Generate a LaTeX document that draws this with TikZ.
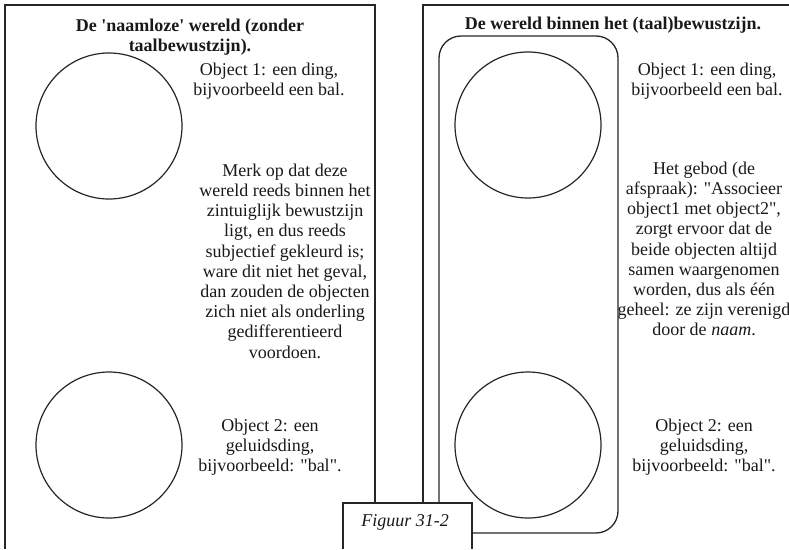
\documentclass[tikz,border=0pt]{standalone}
\usepackage{fontspec}
\setmainfont{Liberation Serif}[Ligatures=TeXOff]
\usetikzlibrary{positioning}

\begin{document}
\begin{tikzpicture}[x=1pt,y=-1pt,
  frame/.style={line width=1.3pt,draw=black!85},
  ball/.style={circle,draw=black!85,line width=1.2pt,minimum size=146pt,inner sep=0pt},
  txt/.style={align=center,inner sep=0pt,text=black!90,font=\fontsize{18}{20.2}\selectfont},
  ttl/.style={txt,font=\fontsize{18}{20.2}\selectfont\bfseries}]
  \def\W{789}
  \def\H{549}
  \useasboundingbox (0,0) rectangle (\W,\H);

  %Left panel: the nameless world
  \draw[frame] (5,\H) -- (5,5) -- (375,5) -- (375,\H);
  \node[ttl] (titleL) at (190,37) {De 'naamloze' wereld (zonder\\taalbewustzijn).};
  \node[ball] (ballL) at (109,126) {};
  \node[ball] (soundL) at (109,445) {};
  \node[txt] (objL) at (269,81) {Object 1: een ding,\\bijvoorbeeld een bal.};
  \node[txt] (noteL) at (285,261) {Merk op dat deze\\wereld reeds binnen het\\zintuiglijk bewustzijn\\ligt, en dus reeds\\subjectief gekleurd is;\\ware dit niet het geval,\\dan zouden de objecten\\zich niet als onderling\\gedifferentieerd\\voordoen.};
  \node[txt] (sndL) at (270,447) {Object 2: een\\geluidsding,\\bijvoorbeeld: "bal".};

  %Right panel: the world within language
  \draw[frame] (423,\H) -- (423,5) -- (\W,5);
  \draw[frame,rounded corners=22pt] (439,36) rectangle (618,533);
  \node[ttl] (titleR) at (613,25) {De wereld binnen het (taal)bewustzijn.};
  \node[ball] (ballR) at (528,125) {};
  \node[ball] (soundR) at (528,445) {};
  \node[txt] (objR) at (707,81) {Object 1: een ding,\\bijvoorbeeld een bal.};
  \node[txt] (noteR) at (704,249) {Het gebod (de\\afspraak): "Associeer\\object1 met object2",\\zorgt ervoor dat de\\beide objecten altijd\\samen waargenomen\\worden, dus als één\\geheel: ze zijn verenigd\\door de \textit{naam}.};
  \node[txt] (sndR) at (704,447) {Object 2: een\\geluidsding,\\bijvoorbeeld: "bal".};

  %Caption box, on top of the frames
  \draw[frame,fill=white] (343,\H) -- (343,503) -- (472,503) -- (472,\H);
  \node[txt,font=\fontsize{18}{20.2}\selectfont\itshape] (caption) at (405,522) {Figuur 31-2};
\end{tikzpicture}
\end{document}
